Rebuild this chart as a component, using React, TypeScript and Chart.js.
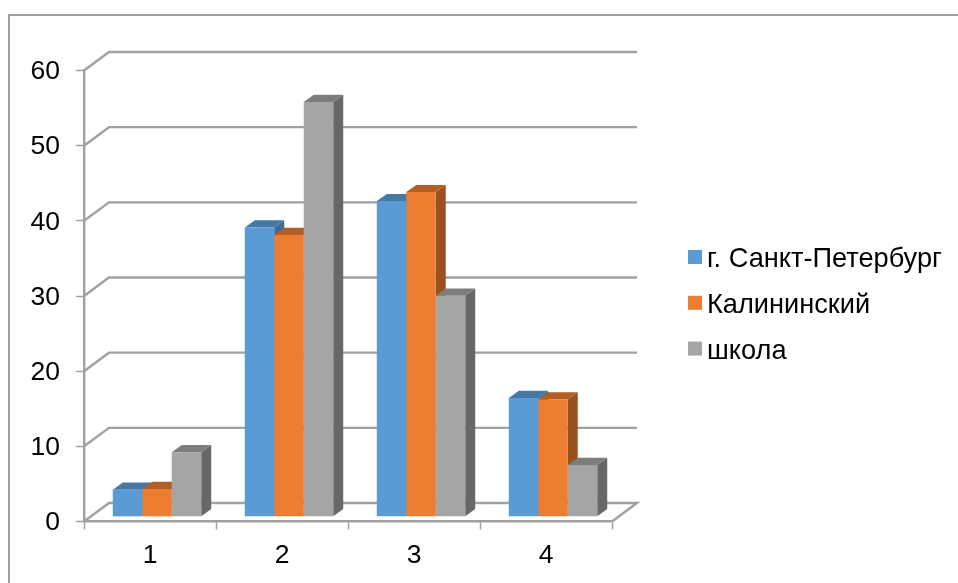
import React, { useEffect, useRef } from "react";
import { Chart, registerables } from "chart.js";

Chart.register(...registerables);

const categories = ["1", "2", "3", "4"];
const spbValues = [3.6, 38.5, 42.0, 15.8];
const districtValues = [3.7, 37.5, 43.2, 15.6];
const schoolValues = [8.6, 55.2, 29.4, 6.9];
const seriesNames = ["г. Санкт-Петербург", "Калининский", "школа"];
const frontColors = ["#5B9BD5", "#ED7D31", "#A5A5A5"];
const topColors = ["#4678A5", "#B25E25", "#7D7D7D"];
const sideColors = ["#3E6A91", "#9A5120", "#676767"];

const FONT = '"Liberation Sans", Arial, sans-serif';
const GRID = "#A0A0A0";
const WALL_DX = 25;
const WALL_DY = -18.5;
const BAR_DX = 7;
const BAR_DY = -4.7;
const DEPTH_DX = 10;
const DEPTH_DY = -7.2;

const plugin3d = {
  id: "plugin3d",
  beforeDatasetsDraw(chart: any) {
    const { ctx, scales, chartArea } = chart;
    const y = scales.y;
    const left = chartArea.left;
    const right = chartArea.right;
    const bottom = y.getPixelForValue(0);

    ctx.save();
    ctx.strokeStyle = GRID;
    ctx.lineWidth = 2.4;
    ctx.lineJoin = "miter";
    y.ticks.forEach((t: any) => {
      const py = y.getPixelForValue(t.value);
      ctx.beginPath();
      ctx.moveTo(left, py);
      ctx.lineTo(left + WALL_DX, py + WALL_DY);
      ctx.lineTo(right + WALL_DX, py + WALL_DY);
      if (t.value === 0) ctx.lineTo(right, bottom);
      ctx.stroke();
    });
    ctx.restore();

    chart.data.labels.forEach((_: string, i: number) => {
      chart.data.datasets.forEach((_d: any, di: number) => {
        const el = chart.getDatasetMeta(di).data[i];
        const half = el.width / 2;
        const x0 = el.x - half + BAR_DX;
        const x1 = el.x + half + BAR_DX;
        const top = el.y + BAR_DY;
        const base = el.base + BAR_DY;
        ctx.fillStyle = sideColors[di];
        ctx.beginPath();
        ctx.moveTo(x1, top);
        ctx.lineTo(x1 + DEPTH_DX, top + DEPTH_DY);
        ctx.lineTo(x1 + DEPTH_DX, base + DEPTH_DY);
        ctx.lineTo(x1, base);
        ctx.closePath();
        ctx.fill();
        ctx.fillStyle = topColors[di];
        ctx.beginPath();
        ctx.moveTo(x0, top);
        ctx.lineTo(x0 + DEPTH_DX, top + DEPTH_DY);
        ctx.lineTo(x1 + DEPTH_DX, top + DEPTH_DY);
        ctx.lineTo(x1, top);
        ctx.closePath();
        ctx.fill();
      });
    });

    ctx.save();
    ctx.translate(BAR_DX, BAR_DY);
  },
  afterDatasetsDraw(chart: any) {
    const { ctx } = chart;
    ctx.restore();

    ctx.save();
    ctx.font = `27.2px ${FONT}`;
    ctx.textBaseline = "alphabetic";
    ctx.textAlign = "left";
    chart.data.datasets.forEach((d: any, di: number) => {
      const rowTop = 250 + di * 45.8;
      ctx.fillStyle = d.backgroundColor;
      ctx.fillRect(688, rowTop, 14, 14);
      ctx.fillStyle = "#000000";
      ctx.fillText(d.label, 707, rowTop + 17);
    });
    ctx.restore();
  },
};

export default function App() {
  const ref = useRef<HTMLCanvasElement>(null);

  useEffect(() => {
    const values = [spbValues, districtValues, schoolValues];
    const chart = new Chart(ref.current as HTMLCanvasElement, {
      type: "bar",
      data: {
        labels: categories,
        datasets: seriesNames.map((label, i) => ({
          label,
          data: values[i],
          backgroundColor: frontColors[i],
          borderWidth: 0,
          categoryPercentage: 0.67,
          barPercentage: 1,
          clip: false as any,
        })),
      },
      options: {
        animation: false,
        responsive: false,
        layout: { padding: { left: 0, top: 70.5, right: 346, bottom: 0 } },
        plugins: { legend: { display: false }, tooltip: { enabled: false }, title: { display: false } },
        scales: {
          x: {
            afterFit: (s: any) => {
              s.height = 61.5;
            },
            grid: { drawOnChartArea: false, drawTicks: true, tickLength: 8, tickColor: GRID, tickWidth: 1.5 },
            border: { display: true, color: GRID, width: 2.4 },
            ticks: { color: "#000000", font: { family: FONT, size: 26.5 }, padding: 10, maxRotation: 0 },
          },
          y: {
            min: 0,
            max: 60,
            afterFit: (s: any) => {
              s.width = 84;
            },
            grid: { drawOnChartArea: false, drawTicks: true, tickLength: 8, tickColor: GRID, tickWidth: 1.5 },
            border: { display: true, color: GRID, width: 2.4 },
            ticks: { stepSize: 10, color: "#000000", font: { family: FONT, size: 26.5 }, padding: 16, labelOffset: 1.5 },
          },
        },
      },
      plugins: [plugin3d],
    } as any);
    return () => chart.destroy();
  }, []);

  return (
    <div style={{ position: "fixed", left: 0, top: 0, width: 958, height: 583, overflow: "hidden", background: "#FFFFFF" }}>
      <div
        style={{
          position: "absolute",
          left: 8,
          top: 14,
          width: 960,
          height: 600,
          borderLeft: "2px solid #A0A0A0",
          borderTop: "2px solid #A0A0A0",
        }}
      />
      <canvas ref={ref} width={958} height={583} style={{ position: "absolute", left: 0, top: 0, display: "block" }} />
    </div>
  );
}
